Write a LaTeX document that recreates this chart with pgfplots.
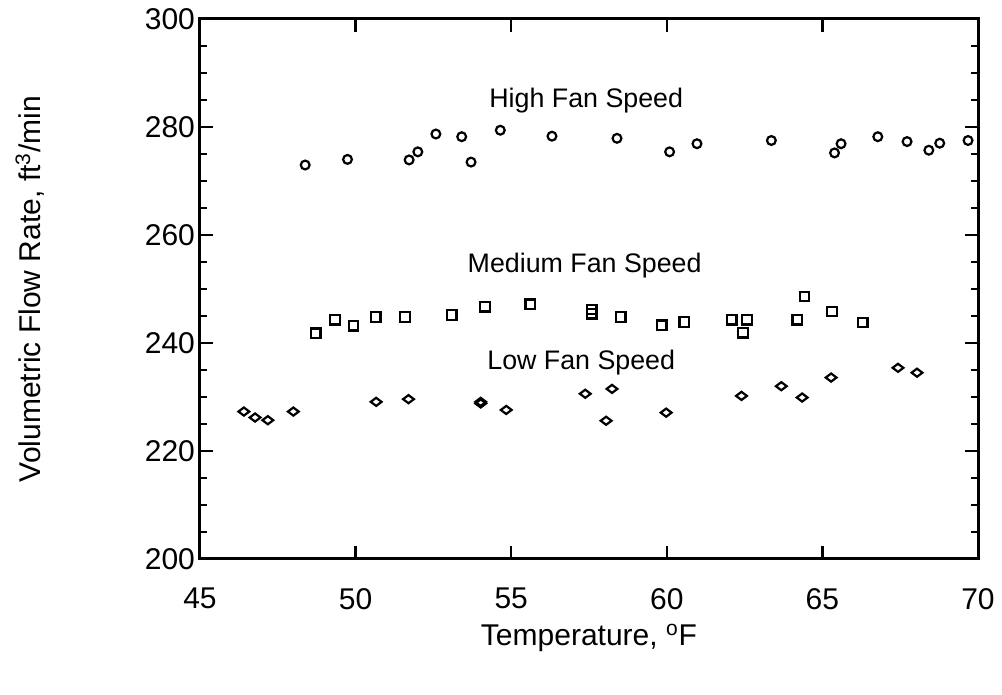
\documentclass[border=0pt]{standalone}
\usepackage{pgfplots}
\pgfplotsset{compat=1.18}
\usepackage{fontspec}
\setmainfont{Liberation Sans}
\begin{document}
\begin{tikzpicture}
\begin{axis}[
  scale only axis, width=389pt, height=270pt,
  xmin=45, xmax=70, ymin=200, ymax=300,
  xtick={45,50,...,70}, ytick={200,220,...,300},
  minor y tick num=3,
  tick align=inside,
  major tick length=6.5pt, minor tick length=3.5pt,
  axis line style={line width=1.5pt},
  every tick/.style={line width=1.2pt, black},
  tick label style={font=\fontsize{15}{18}\selectfont},
  /pgf/number format/assume math mode=true,
  xticklabel style={yshift=-11pt},
  yticklabel style={xshift=1pt},
  xlabel={Temperature, \textsuperscript{o}F},
  ylabel={Volumetric Flow Rate, ft\textsuperscript{3}/min},
  label style={font=\fontsize{15}{18}\selectfont},
  xlabel style={at={(axis description cs:0.5,-0.146)}, anchor=center},
  ylabel style={at={(axis description cs:-0.2185,0.5)}, anchor=center},
]
\addplot[only marks, mark=o, mark size=2.2pt, line width=1.1pt] table {
x y
48.38 272.96
49.74 274.0
51.72 273.9
52.00 275.4
52.58 278.7
53.41 278.2
53.71 273.5
54.65 279.4
56.31 278.3
58.40 277.9
60.09 275.4
60.97 276.9
63.36 277.5
65.39 275.2
65.60 276.9
66.78 278.2
67.72 277.3
68.42 275.7
68.77 277.0
69.68 277.5
};
\addplot[only marks, mark=square, mark size=2.35pt, line width=1.1pt] table {
x y
48.72 241.8
49.34 244.3
49.93 243.2
50.65 244.8
51.59 244.8
53.09 245.2
54.16 246.7
55.61 247.2
57.59 246.2
57.59 245.4
58.52 244.8
59.84 243.3
60.56 243.9
62.09 244.3
62.58 244.3
62.45 241.9
64.19 244.3
64.43 248.6
65.31 245.8
66.30 243.8
};
\addplot[only marks, mark=diamond, mark size=2.7pt, line width=1.1pt, mark options={rotate=90}] table {
x y
46.41 227.3
46.77 226.2
47.18 225.7
48.00 227.3
50.66 229.1
51.70 229.6
54.02 229.1
54.02 228.8
54.84 227.6
57.38 230.6
58.24 231.5
58.05 225.6
59.98 227.1
62.40 230.2
63.68 232.0
64.35 229.9
65.28 233.6
67.43 235.4
68.04 234.5
};
\node[font=\fontsize{13.4}{16}\selectfont, anchor=base] at (axis cs:57.41,283.7) {High Fan Speed};
\node[font=\fontsize{13.4}{16}\selectfont, anchor=base] at (axis cs:57.36,253.1) {Medium Fan Speed};
\node[font=\fontsize{13.4}{16}\selectfont, anchor=base] at (axis cs:57.25,235.0) {Low Fan Speed};
\end{axis}
\path (current axis.south west) ++(-100pt,-68pt) coordinate (bl);
\path (current axis.north east) ++(12pt,9.5pt) coordinate (tr);
\pgfresetboundingbox
\path (bl) rectangle (tr);
\end{tikzpicture}
\end{document}
